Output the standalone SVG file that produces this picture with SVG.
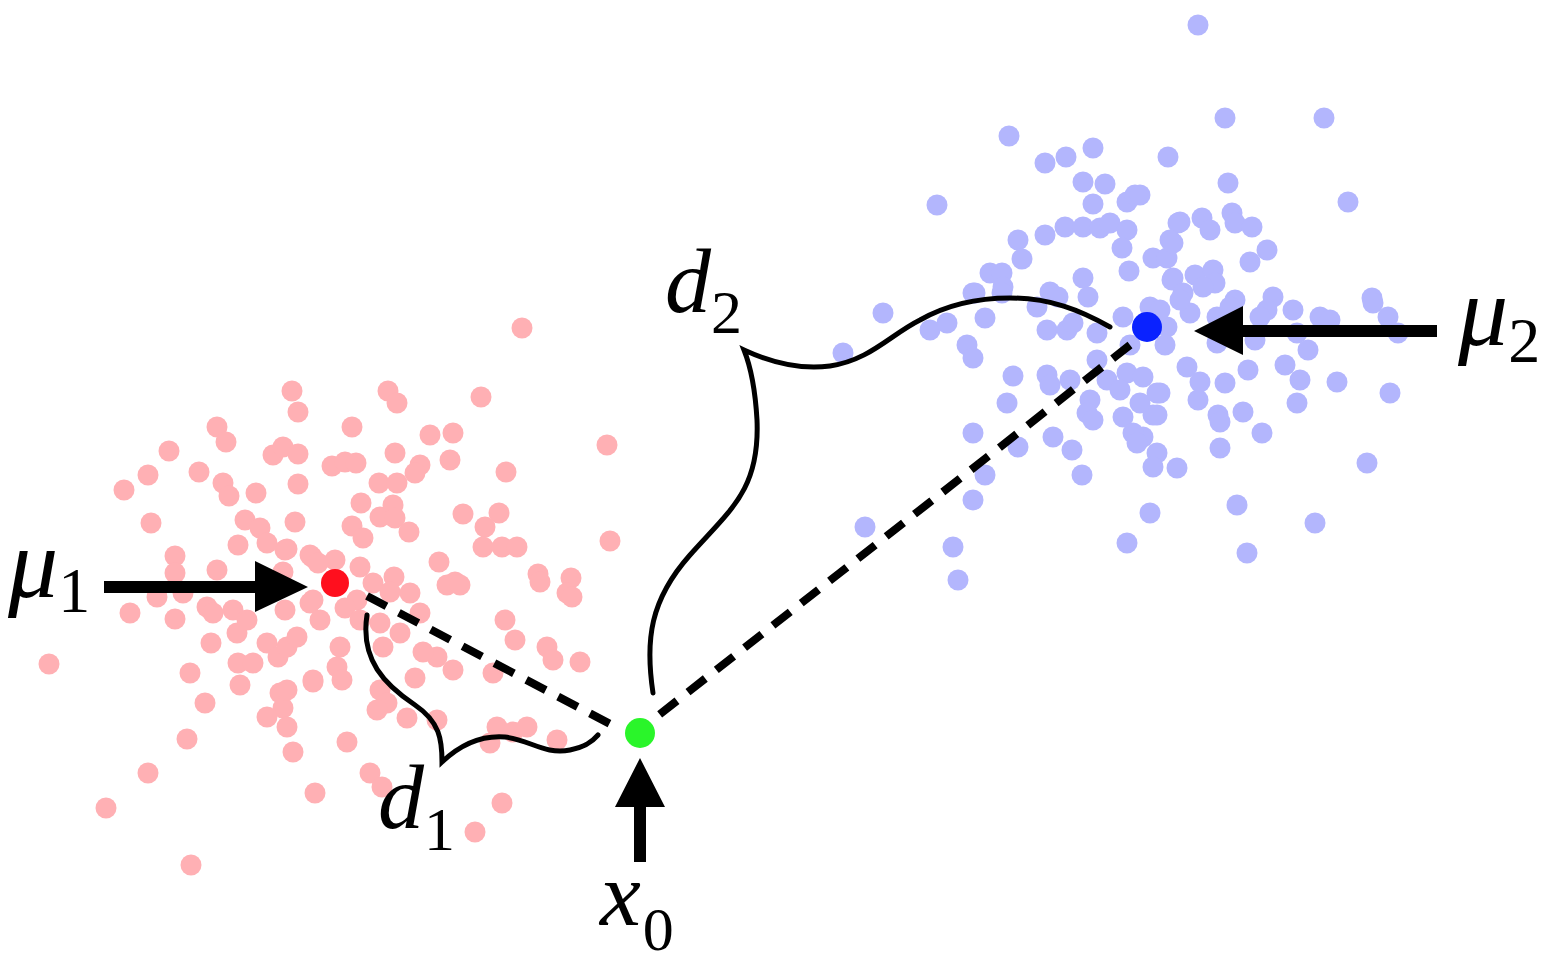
<svg xmlns="http://www.w3.org/2000/svg" width="1560" height="960" viewBox="0 0 1560 960">
<style>
.r{fill:#ffb0b4}
.b{fill:#b3b6fd}
.lbl{fill:#000;font-family:'Liberation Serif','DejaVu Serif',serif}
.brace{fill:none;stroke:#000;stroke-width:5;stroke-linecap:round}
.dash{fill:none;stroke:#000;stroke-width:8;stroke-dasharray:22 14}
</style>
<rect width="1560" height="960" fill="#fff"/>
<g id="cluster1" class="r">
<circle cx="522" cy="328" r="10.5"/><circle cx="292" cy="391" r="10.5"/><circle cx="298" cy="412" r="10.5"/><circle cx="388" cy="391" r="10.5"/><circle cx="397" cy="403" r="10.5"/><circle cx="481" cy="397" r="10.5"/><circle cx="352" cy="427" r="10.5"/><circle cx="217" cy="427" r="10.5"/><circle cx="226" cy="442" r="10.5"/><circle cx="169" cy="451" r="10.5"/><circle cx="273" cy="455" r="10.5"/><circle cx="283" cy="447" r="10.5"/><circle cx="298" cy="454" r="10.5"/><circle cx="148" cy="475" r="10.5"/><circle cx="199" cy="472" r="10.5"/><circle cx="124" cy="490" r="10.5"/><circle cx="223" cy="483" r="10.5"/><circle cx="229" cy="496" r="10.5"/><circle cx="256" cy="493" r="10.5"/><circle cx="298" cy="484" r="10.5"/><circle cx="151" cy="523" r="10.5"/><circle cx="245" cy="520" r="10.5"/><circle cx="260" cy="528" r="10.5"/><circle cx="267" cy="543" r="10.5"/><circle cx="285" cy="550" r="10.5"/><circle cx="238" cy="545" r="10.5"/><circle cx="295" cy="522" r="10.5"/><circle cx="175" cy="556" r="10.5"/><circle cx="175" cy="573" r="10.5"/><circle cx="217" cy="570" r="10.5"/><circle cx="283" cy="572" r="10.5"/><circle cx="312" cy="557" r="10.5"/><circle cx="607" cy="445" r="10.5"/><circle cx="332" cy="466" r="10.5"/><circle cx="345" cy="462" r="10.5"/><circle cx="356" cy="463" r="10.5"/><circle cx="395" cy="453" r="10.5"/><circle cx="430" cy="435" r="10.5"/><circle cx="453" cy="433" r="10.5"/><circle cx="420" cy="465" r="10.5"/><circle cx="450" cy="460" r="10.5"/><circle cx="415" cy="473" r="10.5"/><circle cx="506" cy="472" r="10.5"/><circle cx="379" cy="483" r="10.5"/><circle cx="397" cy="483" r="10.5"/><circle cx="361" cy="503" r="10.5"/><circle cx="380" cy="517" r="10.5"/><circle cx="393" cy="505" r="10.5"/><circle cx="395" cy="518" r="10.5"/><circle cx="352" cy="526" r="10.5"/><circle cx="363" cy="538" r="10.5"/><circle cx="409" cy="532" r="10.5"/><circle cx="463" cy="514" r="10.5"/><circle cx="499" cy="513" r="10.5"/><circle cx="485" cy="527" r="10.5"/><circle cx="483" cy="547" r="10.5"/><circle cx="502" cy="547" r="10.5"/><circle cx="517" cy="547" r="10.5"/><circle cx="610" cy="541" r="10.5"/><circle cx="287" cy="549" r="10.5"/><circle cx="310" cy="555" r="10.5"/><circle cx="335" cy="560" r="10.5"/><circle cx="360" cy="567" r="10.5"/><circle cx="439" cy="562" r="10.5"/><circle cx="538" cy="574" r="10.5"/><circle cx="571" cy="578" r="10.5"/><circle cx="394" cy="577" r="10.5"/><circle cx="455" cy="582" r="10.5"/><circle cx="373" cy="583" r="10.5"/><circle cx="130" cy="613" r="10.5"/><circle cx="157" cy="597" r="10.5"/><circle cx="175" cy="619" r="10.5"/><circle cx="183" cy="593" r="10.5"/><circle cx="207" cy="607" r="10.5"/><circle cx="213" cy="613" r="10.5"/><circle cx="233" cy="610" r="10.5"/><circle cx="237" cy="633" r="10.5"/><circle cx="247" cy="620" r="10.5"/><circle cx="285" cy="610" r="10.5"/><circle cx="310" cy="603" r="10.5"/><circle cx="211" cy="643" r="10.5"/><circle cx="49" cy="664" r="10.5"/><circle cx="190" cy="673" r="10.5"/><circle cx="238" cy="663" r="10.5"/><circle cx="253" cy="663" r="10.5"/><circle cx="267" cy="643" r="10.5"/><circle cx="278" cy="657" r="10.5"/><circle cx="287" cy="647" r="10.5"/><circle cx="297" cy="637" r="10.5"/><circle cx="240" cy="685" r="10.5"/><circle cx="205" cy="703" r="10.5"/><circle cx="313" cy="682" r="10.5"/><circle cx="280" cy="693" r="10.5"/><circle cx="283" cy="708" r="10.5"/><circle cx="267" cy="717" r="10.5"/><circle cx="287" cy="727" r="10.5"/><circle cx="293" cy="752" r="10.5"/><circle cx="187" cy="739" r="10.5"/><circle cx="148" cy="773" r="10.5"/><circle cx="106" cy="808" r="10.5"/><circle cx="315" cy="793" r="10.5"/><circle cx="191" cy="865" r="10.5"/><circle cx="567" cy="593" r="10.5"/><circle cx="540" cy="582" r="10.5"/><circle cx="447" cy="585" r="10.5"/><circle cx="460" cy="585" r="10.5"/><circle cx="505" cy="620" r="10.5"/><circle cx="515" cy="640" r="10.5"/><circle cx="547" cy="647" r="10.5"/><circle cx="553" cy="660" r="10.5"/><circle cx="580" cy="662" r="10.5"/><circle cx="493" cy="673" r="10.5"/><circle cx="453" cy="670" r="10.5"/><circle cx="437" cy="657" r="10.5"/><circle cx="423" cy="652" r="10.5"/><circle cx="415" cy="678" r="10.5"/><circle cx="400" cy="633" r="10.5"/><circle cx="380" cy="623" r="10.5"/><circle cx="420" cy="613" r="10.5"/><circle cx="390" cy="592" r="10.5"/><circle cx="410" cy="593" r="10.5"/><circle cx="383" cy="647" r="10.5"/><circle cx="340" cy="647" r="10.5"/><circle cx="337" cy="667" r="10.5"/><circle cx="342" cy="680" r="10.5"/><circle cx="313" cy="680" r="10.5"/><circle cx="380" cy="690" r="10.5"/><circle cx="387" cy="703" r="10.5"/><circle cx="377" cy="710" r="10.5"/><circle cx="287" cy="690" r="10.5"/><circle cx="407" cy="718" r="10.5"/><circle cx="437" cy="720" r="10.5"/><circle cx="347" cy="742" r="10.5"/><circle cx="497" cy="727" r="10.5"/><circle cx="513" cy="732" r="10.5"/><circle cx="527" cy="727" r="10.5"/><circle cx="490" cy="743" r="10.5"/><circle cx="557" cy="740" r="10.5"/><circle cx="370" cy="773" r="10.5"/><circle cx="382" cy="787" r="10.5"/><circle cx="502" cy="803" r="10.5"/><circle cx="475" cy="832" r="10.5"/><circle cx="318" cy="563" r="10.5"/><circle cx="357" cy="600" r="10.5"/><circle cx="313" cy="600" r="10.5"/><circle cx="320" cy="620" r="10.5"/><circle cx="345" cy="608" r="10.5"/><circle cx="360" cy="620" r="10.5"/><circle cx="572" cy="597" r="10.5"/>
</g>
<g id="cluster2" class="b">
<circle cx="1009" cy="136" r="10.5"/><circle cx="1045" cy="163" r="10.5"/><circle cx="1066" cy="157" r="10.5"/><circle cx="1093" cy="148" r="10.5"/><circle cx="1168" cy="157" r="10.5"/><circle cx="937" cy="205" r="10.5"/><circle cx="1083" cy="182" r="10.5"/><circle cx="1105" cy="184" r="10.5"/><circle cx="1093" cy="204" r="10.5"/><circle cx="1127" cy="202" r="10.5"/><circle cx="1135" cy="195" r="10.5"/><circle cx="1065" cy="227" r="10.5"/><circle cx="1083" cy="227" r="10.5"/><circle cx="1100" cy="228" r="10.5"/><circle cx="1110" cy="223" r="10.5"/><circle cx="1127" cy="230" r="10.5"/><circle cx="1122" cy="248" r="10.5"/><circle cx="1045" cy="235" r="10.5"/><circle cx="1018" cy="240" r="10.5"/><circle cx="1022" cy="259" r="10.5"/><circle cx="990" cy="273" r="10.5"/><circle cx="1002" cy="273" r="10.5"/><circle cx="1003" cy="287" r="10.5"/><circle cx="973" cy="293" r="10.5"/><circle cx="1050" cy="292" r="10.5"/><circle cx="1083" cy="278" r="10.5"/><circle cx="1129" cy="271" r="10.5"/><circle cx="1153" cy="258" r="10.5"/><circle cx="1167" cy="258" r="10.5"/><circle cx="1173" cy="278" r="10.5"/><circle cx="1178" cy="223" r="10.5"/><circle cx="1170" cy="240" r="10.5"/><circle cx="1198" cy="25" r="10.5"/><circle cx="1225" cy="118" r="10.5"/><circle cx="1324" cy="118" r="10.5"/><circle cx="1228" cy="183" r="10.5"/><circle cx="1348" cy="202" r="10.5"/><circle cx="1140" cy="195" r="10.5"/><circle cx="1180" cy="222" r="10.5"/><circle cx="1202" cy="218" r="10.5"/><circle cx="1210" cy="230" r="10.5"/><circle cx="1232" cy="213" r="10.5"/><circle cx="1235" cy="223" r="10.5"/><circle cx="1252" cy="227" r="10.5"/><circle cx="1173" cy="243" r="10.5"/><circle cx="1267" cy="250" r="10.5"/><circle cx="1250" cy="262" r="10.5"/><circle cx="1172" cy="280" r="10.5"/><circle cx="1195" cy="275" r="10.5"/><circle cx="1213" cy="270" r="10.5"/><circle cx="1215" cy="283" r="10.5"/><circle cx="1203" cy="287" r="10.5"/><circle cx="1183" cy="293" r="10.5"/><circle cx="1273" cy="297" r="10.5"/><circle cx="1235" cy="300" r="10.5"/><circle cx="1372" cy="298" r="10.5"/><circle cx="1150" cy="307" r="10.5"/><circle cx="1190" cy="313" r="10.5"/><circle cx="1217" cy="317" r="10.5"/><circle cx="1230" cy="307" r="10.5"/><circle cx="1267" cy="310" r="10.5"/><circle cx="1260" cy="317" r="10.5"/><circle cx="1293" cy="310" r="10.5"/><circle cx="1297" cy="333" r="10.5"/><circle cx="1320" cy="317" r="10.5"/><circle cx="1330" cy="320" r="10.5"/><circle cx="1373" cy="303" r="10.5"/><circle cx="1388" cy="317" r="10.5"/><circle cx="1398" cy="333" r="10.5"/><circle cx="1308" cy="350" r="10.5"/><circle cx="1255" cy="340" r="10.5"/><circle cx="1217" cy="343" r="10.5"/><circle cx="1187" cy="367" r="10.5"/><circle cx="1200" cy="382" r="10.5"/><circle cx="1225" cy="383" r="10.5"/><circle cx="1198" cy="400" r="10.5"/><circle cx="1248" cy="370" r="10.5"/><circle cx="1285" cy="365" r="10.5"/><circle cx="1300" cy="380" r="10.5"/><circle cx="1337" cy="382" r="10.5"/><circle cx="1390" cy="393" r="10.5"/><circle cx="1297" cy="403" r="10.5"/><circle cx="1160" cy="393" r="10.5"/><circle cx="1153" cy="415" r="10.5"/><circle cx="1218" cy="415" r="10.5"/><circle cx="1220" cy="422" r="10.5"/><circle cx="1243" cy="412" r="10.5"/><circle cx="1262" cy="433" r="10.5"/><circle cx="1220" cy="448" r="10.5"/><circle cx="1143" cy="437" r="10.5"/><circle cx="1157" cy="453" r="10.5"/><circle cx="1153" cy="467" r="10.5"/><circle cx="1177" cy="468" r="10.5"/><circle cx="1367" cy="463" r="10.5"/><circle cx="1237" cy="505" r="10.5"/><circle cx="1150" cy="513" r="10.5"/><circle cx="1315" cy="523" r="10.5"/><circle cx="1247" cy="553" r="10.5"/><circle cx="883" cy="313" r="10.5"/><circle cx="843" cy="353" r="10.5"/><circle cx="930" cy="330" r="10.5"/><circle cx="947" cy="323" r="10.5"/><circle cx="985" cy="318" r="10.5"/><circle cx="967" cy="345" r="10.5"/><circle cx="973" cy="358" r="10.5"/><circle cx="975" cy="293" r="10.5"/><circle cx="1002" cy="293" r="10.5"/><circle cx="1037" cy="307" r="10.5"/><circle cx="1047" cy="330" r="10.5"/><circle cx="1067" cy="330" r="10.5"/><circle cx="1073" cy="323" r="10.5"/><circle cx="1097" cy="333" r="10.5"/><circle cx="1123" cy="317" r="10.5"/><circle cx="1167" cy="327" r="10.5"/><circle cx="1097" cy="360" r="10.5"/><circle cx="1107" cy="380" r="10.5"/><circle cx="1127" cy="373" r="10.5"/><circle cx="1143" cy="377" r="10.5"/><circle cx="1013" cy="376" r="10.5"/><circle cx="1047" cy="375" r="10.5"/><circle cx="1050" cy="385" r="10.5"/><circle cx="1070" cy="380" r="10.5"/><circle cx="1007" cy="403" r="10.5"/><circle cx="1090" cy="400" r="10.5"/><circle cx="1087" cy="413" r="10.5"/><circle cx="1093" cy="420" r="10.5"/><circle cx="1120" cy="390" r="10.5"/><circle cx="1123" cy="417" r="10.5"/><circle cx="1140" cy="403" r="10.5"/><circle cx="1157" cy="393" r="10.5"/><circle cx="1157" cy="415" r="10.5"/><circle cx="973" cy="433" r="10.5"/><circle cx="1053" cy="437" r="10.5"/><circle cx="1072" cy="450" r="10.5"/><circle cx="1133" cy="433" r="10.5"/><circle cx="1137" cy="443" r="10.5"/><circle cx="1018" cy="447" r="10.5"/><circle cx="1082" cy="475" r="10.5"/><circle cx="985" cy="475" r="10.5"/><circle cx="973" cy="500" r="10.5"/><circle cx="865" cy="527" r="10.5"/><circle cx="1127" cy="543" r="10.5"/><circle cx="953" cy="547" r="10.5"/><circle cx="958" cy="580" r="10.5"/><circle cx="1130" cy="345" r="10.5"/><circle cx="1165" cy="345" r="10.5"/><circle cx="1160" cy="310" r="10.5"/><circle cx="1180" cy="300" r="10.5"/><circle cx="1058" cy="297" r="10.5"/><circle cx="1088" cy="297" r="10.5"/>
</g>
<g id="connectors">
<line class="dash" x1="367" y1="596" x2="612" y2="725"/>
<line class="dash" x1="1130" y1="345" x2="655" y2="718"/>
<path class="brace" d="M367,615 C360,660 385,685 415,705 C440,722 442,740 442,762 C460,745 480,735 505,737 C530,740 545,755 570,750 C585,747 592,742 598,735"/>
<path class="brace" d="M653,693 C645,640 650,600 690,555 C730,510 760,490 757,420 C755,385 750,365 744,350 C770,362 800,370 830,366 C870,360 890,335 920,320 C950,303 980,298 1010,298 C1050,298 1080,310 1110,327"/>
<path d="M104,581 H255 V561 L308,587 L255,612 V593 H104 Z" fill="#000"/>
<path d="M1437,325 H1243 V306 L1194,331 L1243,355 V337 H1437 Z" fill="#000"/>
<path d="M634,862 V807 H615 L640,758 L665,807 H646 V862 Z" fill="#000"/>
</g>
<g id="mu1-node">
<circle cx="335" cy="583" r="14" fill="#ff0f1e"/>
<text class="lbl" x="8" y="597" font-size="100" font-style="italic">μ<tspan font-style="normal" font-size="64" dy="15">1</tspan></text>
</g>
<g id="mu2-node">
<circle cx="1147" cy="327" r="15" fill="#0a22ff"/>
<text class="lbl" x="1458" y="345" font-size="100" font-style="italic">μ<tspan font-style="normal" font-size="64" dy="17">2</tspan></text>
</g>
<g id="x0-node">
<circle cx="640" cy="733" r="15" fill="#2af52a"/>
<text class="lbl" x="600" y="925" font-size="92" font-style="italic">x<tspan font-style="normal" font-size="62" dx="2" dy="25">0</tspan></text>
</g>
<g id="d1-label">
<text class="lbl" x="378" y="828" font-size="92" font-style="italic">d<tspan font-style="normal" font-size="62" dy="22">1</tspan></text>
</g>
<g id="d2-label">
<text class="lbl" x="665" y="312" font-size="92" font-style="italic">d<tspan font-style="normal" font-size="62" dy="21">2</tspan></text>
</g>
</svg>
